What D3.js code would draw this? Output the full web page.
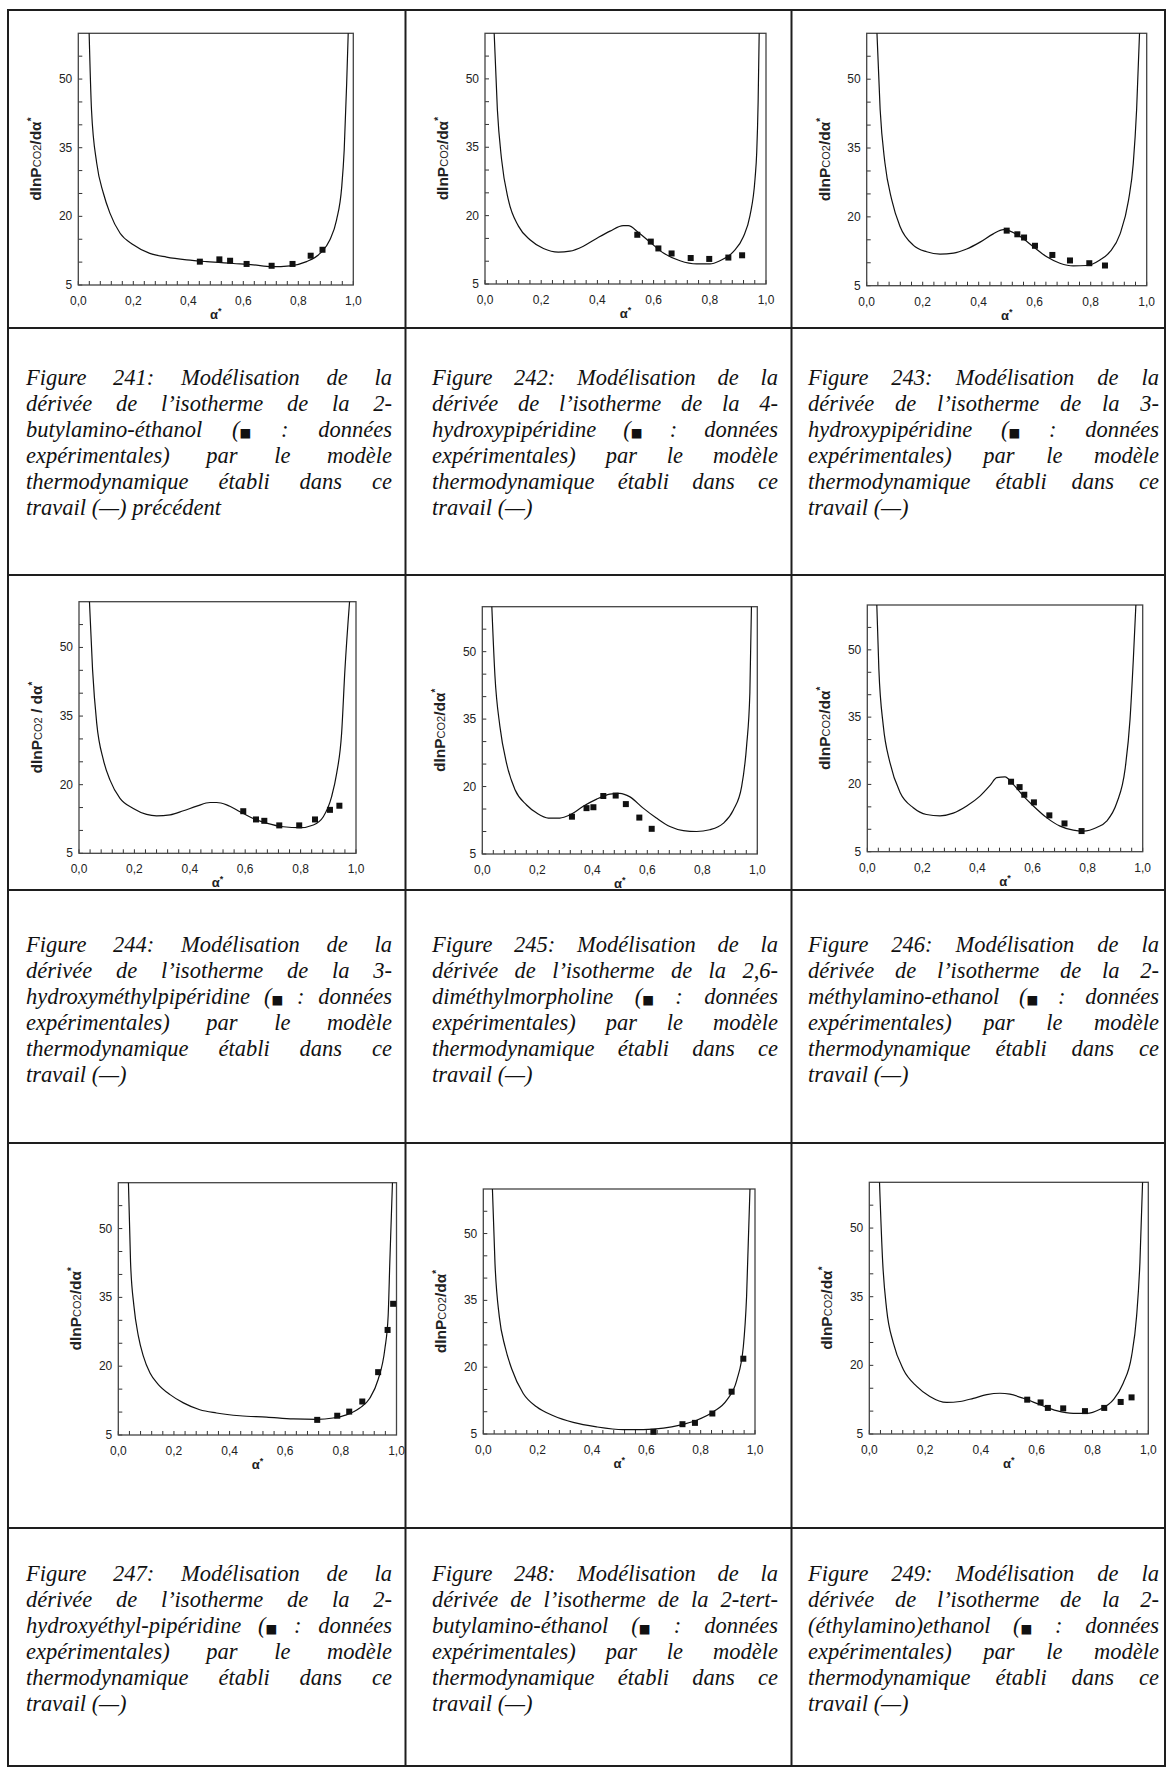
<!DOCTYPE html>
<html><head><meta charset="utf-8">
<script src="https://cdn.jsdelivr.net/npm/d3@7"></script>
<style>
body{margin:0;background:#fff;}
svg{display:block;}
.tick{font-family:"Liberation Sans",Arial,sans-serif;font-size:12px;fill:#222;}
.ttl{font-family:"Liberation Sans",Arial,sans-serif;font-size:13px;font-weight:bold;fill:#222;}
.ytl{font-family:"Liberation Sans",Arial,sans-serif;font-size:15.5px;font-weight:bold;fill:#222;}
.cap{font-family:"Liberation Serif","Times New Roman",serif;font-style:italic;font-size:22.5px;fill:#111;}
</style></head>
<body>
<svg id="page" width="1167" height="1768"></svg>
<script>
// ---------- DATA ----------
const xTickLabels = ["0,0","0,2","0,4","0,6","0,8","1,0"];
const xTickValues = [0,0.2,0.4,0.6,0.8,1.0];
const yTickLabels = ["5","20","35","50"];
const yTickValues = [5,20,35,50];
const yDomain = [5,60];
const xDomain = [0,1];

const fig241Curve = [[0.039,61],[0.048,43.3],[0.067,31.6],[0.091,25.1],[0.115,20.7],[0.152,16.3],[0.2,13.8],[0.26,11.9],[0.321,11.1],[0.394,10.5],[0.467,10.1],[0.564,9.7],[0.636,9.4],[0.703,9.0],[0.77,9.2],[0.83,10.1],[0.879,11.9],[0.915,14.9],[0.939,19.2],[0.958,26.5],[0.967,34.6],[0.976,49.2],[0.982,61]];
const fig241X = [0.442,0.513,0.552,0.612,0.703,0.779,0.845,0.888];
const fig241Y = [10.1,10.6,10.3,9.6,9.2,9.6,11.4,12.7];

const fig242Curve = [[0.032,61],[0.044,43.3],[0.059,32.3],[0.083,23.5],[0.119,17.7],[0.16,14.7],[0.208,12.8],[0.261,12.0],[0.302,12.2],[0.35,13.3],[0.397,15.0],[0.445,16.6],[0.492,17.8],[0.51,17.8],[0.546,16.3],[0.587,14.2],[0.635,11.8],[0.694,10.1],[0.753,9.4],[0.801,9.4],[0.836,10.1],[0.884,12.1],[0.919,15.3],[0.943,20.0],[0.961,28.1],[0.967,33.9],[0.972,45],[0.976,61]];
const fig242X = [0.542,0.590,0.617,0.664,0.732,0.798,0.866,0.915];
const fig242Y = [15.8,14.3,12.8,11.7,10.7,10.5,10.8,11.3];

const fig243Curve = [[0.036,61],[0.048,43.4],[0.065,31.8],[0.089,23.8],[0.119,17.9],[0.167,13.8],[0.214,12.4],[0.262,11.9],[0.31,12.1],[0.357,13.0],[0.405,14.5],[0.452,16.3],[0.488,17.2],[0.512,16.9],[0.548,15.7],[0.595,13.5],[0.643,11.3],[0.69,9.9],[0.738,9.3],[0.786,9.4],[0.833,10.6],[0.869,12.4],[0.905,16.3],[0.935,23.6],[0.952,31.6],[0.964,43.4],[0.975,61]];
const fig243X = [0.5,0.538,0.562,0.601,0.663,0.726,0.795,0.851];
const fig243Y = [17.0,16.2,15.5,13.7,11.7,10.5,9.9,9.4];

const fig244Curve = [[0.037,61],[0.049,45.1],[0.064,33.4],[0.088,25.4],[0.112,21.0],[0.148,17.0],[0.196,14.8],[0.244,13.5],[0.28,13.2],[0.329,13.4],[0.377,14.3],[0.425,15.3],[0.473,16.1],[0.497,16.1],[0.533,15.6],[0.581,14.1],[0.629,12.6],[0.677,11.6],[0.738,10.8],[0.798,10.6],[0.846,11.2],[0.882,13.0],[0.912,17.4],[0.93,22.4],[0.948,31.2],[0.96,45.1],[0.978,61]];
const fig244X = [0.593,0.639,0.669,0.723,0.795,0.852,0.906,0.94];
const fig244Y = [14.2,12.4,12.1,11.1,11.1,12.4,14.5,15.4];

const fig245Curve = [[0.034,61],[0.046,44.6],[0.064,33.4],[0.088,25.2],[0.119,19.3],[0.161,15.9],[0.198,14.1],[0.24,13.0],[0.282,13.0],[0.319,13.7],[0.367,15.6],[0.416,17.2],[0.464,18.3],[0.5,18.5],[0.537,17.7],[0.585,15.2],[0.633,13.0],[0.682,11.1],[0.731,10.2],[0.779,10.0],[0.827,10.4],[0.876,11.8],[0.913,14.8],[0.943,20.0],[0.961,29.0],[0.973,40.9],[0.979,61]];
const fig245X = [0.326,0.379,0.404,0.44,0.485,0.522,0.571,0.616];
const fig245Y = [13.3,15.2,15.4,17.9,18.0,16.1,13.1,10.6];

const fig246Curve = [[0.034,61],[0.042,45.7],[0.058,33.1],[0.082,24.9],[0.119,18.2],[0.167,14.8],[0.215,13.3],[0.264,13.0],[0.312,13.6],[0.361,15.2],[0.409,17.4],[0.446,19.8],[0.47,21.5],[0.5,21.7],[0.53,20.0],[0.567,17.4],[0.603,15.2],[0.651,12.6],[0.7,10.7],[0.748,9.8],[0.784,9.6],[0.833,10.4],[0.869,11.8],[0.906,15.9],[0.936,23.4],[0.954,34.5],[0.966,47.9],[0.976,61]];
const fig246X = [0.522,0.553,0.570,0.605,0.661,0.716,0.778];
const fig246Y = [20.6,19.4,17.7,16.0,13.1,11.3,9.6];

const fig247Curve = [[0.036,61],[0.044,42.7],[0.056,33.2],[0.072,26.6],[0.09,22.2],[0.114,18.5],[0.144,16.0],[0.186,13.8],[0.234,12.0],[0.293,10.5],[0.353,9.8],[0.437,9.2],[0.533,8.9],[0.629,8.5],[0.713,8.4],[0.772,8.7],[0.82,9.4],[0.868,10.9],[0.904,13.0],[0.934,17.1],[0.958,23.7],[0.97,31.0],[0.976,42.7],[0.986,61]];
const fig247X = [0.715,0.787,0.83,0.877,0.934,0.968,0.988];
const fig247Y = [8.3,9.2,10.1,12.3,18.7,27.9,33.6];

const fig248Curve = [[0.033,61],[0.043,43.3],[0.059,31.3],[0.08,24.6],[0.104,19.7],[0.147,14.1],[0.196,11.1],[0.258,9.1],[0.331,7.6],[0.417,6.6],[0.515,6.0],[0.589,6.0],[0.663,6.3],[0.724,7.0],[0.785,8.1],[0.847,10.0],[0.896,12.6],[0.933,17.1],[0.957,24.6],[0.969,35.8],[0.982,61]];
const fig248X = [0.626,0.733,0.779,0.843,0.914,0.957];
const fig248Y = [5.5,7.2,7.5,9.6,14.5,21.9];

const fig249Curve = [[0.036,61],[0.048,42.5],[0.062,32.3],[0.086,24.9],[0.122,19.1],[0.17,15.4],[0.217,13.2],[0.277,11.9],[0.325,12.1],[0.373,12.8],[0.421,13.6],[0.468,13.9],[0.504,13.7],[0.552,12.8],[0.612,11.4],[0.671,10.1],[0.731,9.5],[0.779,9.5],[0.827,10.4],[0.875,12.5],[0.91,16.1],[0.94,22.0],[0.958,30.7],[0.97,42.5],[0.98,61]];
const fig249X = [0.566,0.614,0.640,0.695,0.773,0.842,0.901,0.940];
const fig249Y = [12.5,11.9,10.7,10.6,10.0,10.7,12.0,13.0];

const captions = {
  241: ["Figure 241: Modélisation de la","dérivée de l’isotherme de la 2-","butylamino-éthanol (■ : données","expérimentales) par le modèle","thermodynamique établi dans ce","travail (—) précédent"],
  242: ["Figure 242: Modélisation de la","dérivée de l’isotherme de la 4-","hydroxypipéridine (■ : données","expérimentales) par le modèle","thermodynamique établi dans ce","travail (—)"],
  243: ["Figure 243: Modélisation de la","dérivée de l’isotherme de la 3-","hydroxypipéridine (■ : données","expérimentales) par le modèle","thermodynamique établi dans ce","travail (—)"],
  244: ["Figure 244: Modélisation de la","dérivée de l’isotherme de la 3-","hydroxyméthylpipéridine (■ : données","expérimentales) par le modèle","thermodynamique établi dans ce","travail (—)"],
  245: ["Figure 245: Modélisation de la","dérivée de l’isotherme de la 2,6-","diméthylmorpholine (■ : données","expérimentales) par le modèle","thermodynamique établi dans ce","travail (—)"],
  246: ["Figure 246: Modélisation de la","dérivée de l’isotherme de la 2-","méthylamino-ethanol (■ : données","expérimentales) par le modèle","thermodynamique établi dans ce","travail (—)"],
  247: ["Figure 247: Modélisation de la","dérivée de l’isotherme de la 2-","hydroxyéthyl-pipéridine (■ : données","expérimentales) par le modèle","thermodynamique établi dans ce","travail (—)"],
  248: ["Figure 248: Modélisation de la","dérivée de l’isotherme de la 2-tert-","butylamino-éthanol (■ : données","expérimentales) par le modèle","thermodynamique établi dans ce","travail (—)"],
  249: ["Figure 249: Modélisation de la","dérivée de l’isotherme de la 2-","(éthylamino)ethanol (■ : données","expérimentales) par le modèle","thermodynamique établi dans ce","travail (—)"]
};

// ---------- LAYOUT ----------
const figs = [
  {id:241, curve:fig241Curve, px:fig241X, py:fig241Y, sep:"/"},
  {id:242, curve:fig242Curve, px:fig242X, py:fig242Y, sep:"/"},
  {id:243, curve:fig243Curve, px:fig243X, py:fig243Y, sep:"/"},
  {id:244, curve:fig244Curve, px:fig244X, py:fig244Y, sep:" / "},
  {id:245, curve:fig245Curve, px:fig245X, py:fig245Y, sep:"/"},
  {id:246, curve:fig246Curve, px:fig246X, py:fig246Y, sep:"/"},
  {id:247, curve:fig247Curve, px:fig247X, py:fig247Y, sep:"/"},
  {id:248, curve:fig248Curve, px:fig248X, py:fig248Y, sep:"/"},
  {id:249, curve:fig249Curve, px:fig249X, py:fig249Y, sep:"/"}
];
const boxes = {
  241:{L:78.3,R:353.3,T:33.3,B:285},
  242:{L:485,R:766,T:33.3,B:284},
  243:{L:866.7,R:1146.7,T:33.3,B:285.7},
  244:{L:79,R:356,T:601.7,B:853.3},
  245:{L:482.3,R:757.3,T:606.7,B:854},
  246:{L:867.3,R:1142.7,T:605,B:851.7},
  247:{L:118.3,R:396.5,T:1182.7,B:1435},
  248:{L:483.3,R:755,T:1189,B:1434},
  249:{L:869.3,R:1148.3,T:1182.3,B:1434}
};
const colX = [8,405.5,791.5,1165];
const rowY = [10,328,575,890,1143,1528,1766];
const capLeft = [26,432,808];
const capWidth = [366,346,351];
const capTop = [385,952,1581];
const lineH = 25.9;

const svg = d3.select("#page");
svg.append("rect").attr("width",1167).attr("height",1768).attr("fill","#fff");
const defs = svg.append("defs");

figs.forEach((f,i)=>{
  const b = boxes[f.id];
  const w = b.R-b.L, h = b.B-b.T;
  const x = d3.scaleLinear().domain(xDomain).range([0,w]);
  const y = d3.scaleLinear().domain(yDomain).range([h,0]);
  const g = svg.append("g").attr("transform",`translate(${b.L},${b.T})`);
  defs.append("clipPath").attr("id","clip"+f.id).append("rect").attr("width",w).attr("height",h);

  // inner ticks
  const xMinor = d3.range(0,1.0001,0.04);
  g.selectAll(".xt").data(xMinor).join("line")
    .attr("x1",d=>x(d)).attr("x2",d=>x(d)).attr("y1",h).attr("y2",h-4)
    .attr("stroke","#333").attr("stroke-width",1);
  const yMinor = d3.range(5,60,5);
  g.selectAll(".yt").data(yMinor).join("line")
    .attr("x1",0).attr("x2",4).attr("y1",d=>y(d)).attr("y2",d=>y(d))
    .attr("stroke","#333").attr("stroke-width",1);

  // frame
  g.append("rect").attr("width",w).attr("height",h).attr("fill","none")
    .attr("stroke","#444").attr("stroke-width",1.3);

  // tick labels
  g.selectAll(".xl").data(xTickValues).join("text").attr("class","tick")
    .attr("x",d=>x(d)).attr("y",h+20).attr("text-anchor","middle")
    .text((d,k)=>xTickLabels[k]);
  g.selectAll(".yl").data(yTickValues).join("text").attr("class","tick")
    .attr("x",-6).attr("y",d=>y(d)+4).attr("text-anchor","end")
    .text((d,k)=>yTickLabels[k]);

  // titles
  const xt = g.append("text").attr("class","ttl").attr("x",w/2).attr("y",h+34).attr("text-anchor","middle");
  xt.append("tspan").text("α");
  xt.append("tspan").attr("dy",-5).attr("font-size",9).text("*");
  const yt = g.append("text").attr("class","ytl").attr("text-anchor","middle")
    .attr("transform",`translate(-37,${h/2}) rotate(-90)`);
  yt.append("tspan").text("dlnP");
  yt.append("tspan").attr("font-size",11).attr("font-weight","normal").text("CO2");
  yt.append("tspan").text(f.sep+"dα");
  yt.append("tspan").attr("dy",-6).attr("font-size",10).text("*");

  // curve
  const line = d3.line().x(d=>x(d[0])).y(d=>y(d[1])).curve(d3.curveMonotoneX);
  g.append("path").attr("d",line(f.curve)).attr("fill","none")
    .attr("stroke","#111").attr("stroke-width",1.2).attr("clip-path",`url(#clip${f.id})`);

  // points
  const pts = f.px.map((v,k)=>[v,f.py[k]]);
  g.selectAll(".pt").data(pts).join("rect")
    .attr("x",d=>x(d[0])-3).attr("y",d=>y(d[1])-3).attr("width",6).attr("height",6)
    .attr("fill","#111");

  // caption
  const col = i%3, row = Math.floor(i/3);
  const cg = svg.append("g");
  drawCaption(cg, captions[f.id], capLeft[col], capWidth[col], capTop[row]);
});

function appendWord(t, w){
  const parts = w.split("■");
  parts.forEach((p,k)=>{
    if(k>0) t.append("tspan").attr("font-family","DejaVu Sans").attr("font-style","normal").attr("font-size",12.5).text("■");
    if(p) t.append("tspan").text(p);
  });
}
function drawCaption(g, lines, x0, width, y0){
  const probe = g.append("text").attr("class","cap").text("a a");
  const w1 = probe.node().getComputedTextLength();
  probe.text("aa"); const spaceW = w1 - probe.node().getComputedTextLength();
  probe.remove();
  lines.forEach((ln,i)=>{
    const yy = y0 + i*lineH;
    const words = ln.split(" ");
    const nodes = words.map(w=>{ const t = g.append("text").attr("class","cap").attr("y",yy); appendWord(t,w); return t; });
    const widths = nodes.map(n=>n.node().getComputedTextLength());
    const last = i===lines.length-1;
    const gap = (last || words.length<2) ? spaceW : (width - d3.sum(widths))/(words.length-1);
    let xx = x0;
    nodes.forEach((n,k)=>{ n.attr("x",xx); xx += widths[k]+gap; });
  });
}

// table grid
const grid = svg.append("g").attr("stroke","#1e1e1e").attr("stroke-width",2);
colX.forEach(cx=>grid.append("line").attr("x1",cx).attr("x2",cx).attr("y1",rowY[0]).attr("y2",rowY[rowY.length-1]));
rowY.forEach(ry=>grid.append("line").attr("x1",colX[0]-1).attr("x2",colX[3]+1).attr("y1",ry).attr("y2",ry));
</script>
</body></html>
